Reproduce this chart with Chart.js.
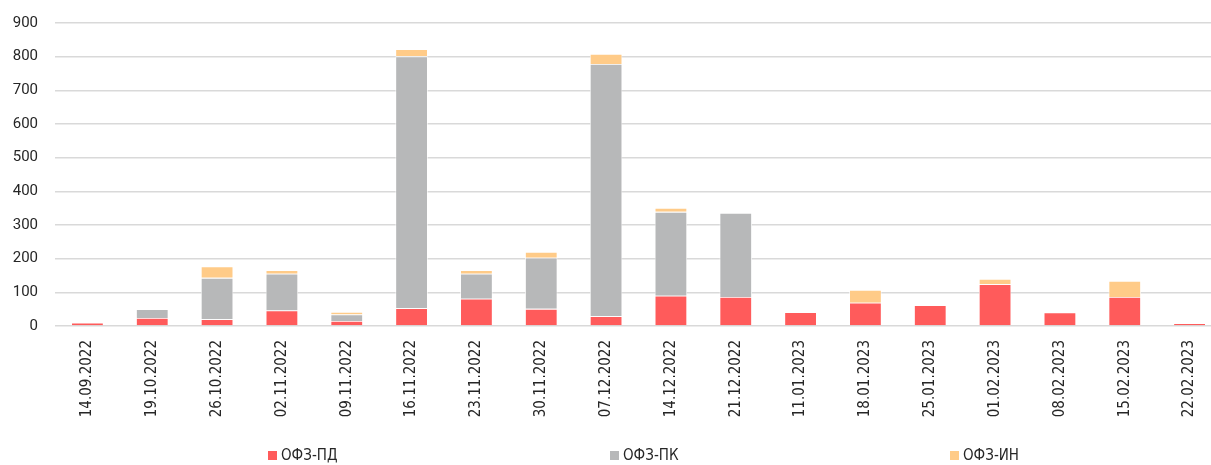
<!DOCTYPE html>
<html>
<head>
<meta charset="utf-8">
<script src="https://cdn.jsdelivr.net/npm/chart.js@4.4.0/dist/chart.umd.min.js"></script>
<style>
  body { margin: 0; background: #fff; overflow: hidden; }
  #wrap { position: relative; width: 1211px; height: 465px; overflow: hidden; }
  #myChart { position: absolute; left: 0; top: 0; }
  #legend { position: absolute; top: 446px; left: 0; width: 1211px; height: 18px;
            font-family: "Liberation Sans Narrow", "DejaVu Sans Condensed", Roboto, sans-serif;
            font-size: 15px; color: #262626; }
  .item { position: absolute; top: 0; line-height: 18px; white-space: nowrap; }
  .box { display: inline-block; width: 9px; height: 9px; margin-right: 4px; vertical-align: 0px; }
</style>
</head>
<body>
<div id="wrap">
  <canvas id="myChart" width="1225" height="465"></canvas>
  <div id="legend"></div>
</div>
<script>
// dates of auctions
const dates = ['14.09.2022', '19.10.2022', '26.10.2022', '02.11.2022', '09.11.2022', '16.11.2022',
  '23.11.2022', '30.11.2022', '07.12.2022', '14.12.2022', '21.12.2022', '11.01.2023',
  '18.01.2023', '25.01.2023', '01.02.2023', '08.02.2023', '15.02.2023', '22.02.2023'];

// values by bond type
const ofzPD = [10, 24, 20, 46, 15, 53, 81, 51, 29, 90, 86, 41, 69, 62, 124, 40, 86, 8];
const ofzPK = [0, 26, 123, 109, 19, 748, 74, 152, 749, 249, 250, 0, 0, 0, 0, 0, 0, 0];
const ofzIN = [0, 0, 34, 11, 8, 21, 11, 17, 30, 12, 0, 0, 38, 0, 16, 0, 48, 0];

const yTicks = [0, 100, 200, 300, 400, 500, 600, 700, 800, 900];

const seriesNames = ['ОФЗ-ПД', 'ОФЗ-ПК', 'ОФЗ-ИН'];
const seriesColors = ['#FF5B5B', '#B7B8B9', '#FFCB88'];

const data = {
  labels: dates,
  datasets: [ofzPD, ofzPK, ofzIN].map((vals, i) => ({
    label: seriesNames[i],
    data: vals,
    backgroundColor: seriesColors[i],
    borderColor: '#ffffff',
    borderWidth: 0.8,
    barPercentage: 0.5,
    categoryPercentage: 1.0,
  }))
};

const ctx = document.getElementById('myChart').getContext('2d');

const myChart = new Chart(ctx, {
  type: 'bar',
  data: data,
  options: {
    responsive: false,
    animation: false,
    layout: { padding: { top: 23, left: 0, right: 3, bottom: 0 } },
    plugins: {
      legend: { display: false },
      tooltip: { enabled: false }
    },
    scales: {
      x: {
        stacked: true,
        grid: { display: false },
        border: { display: false },
        ticks: {
          minRotation: 90,
          maxRotation: 90,
          padding: 6,
          color: '#262626',
          font: { family: '"Liberation Sans Narrow", "DejaVu Sans Condensed", Roboto, sans-serif', size: 15 }
        },
        afterFit: (scale) => { scale.height = 139; }
      },
      y: {
        stacked: true,
        min: 0,
        max: 900,
        afterBuildTicks: (scale) => { scale.ticks = yTicks.map(v => ({ value: v })); },
        grid: { color: '#d9d9d9', lineWidth: 1.5, drawTicks: false },
        border: { display: false },
        ticks: {
          padding: 17,
          color: '#262626',
          font: { family: 'Roboto, "Open Sans", sans-serif', size: 15 }
        },
        afterFit: (scale) => { scale.width = 55; scale.paddingTop = 0; scale.paddingBottom = 0; }
      }
    }
  }
});

// legend spread across the bottom
const legendX = [268, 610, 950];
const legend = document.getElementById('legend');
seriesNames.forEach((name, i) => {
  const item = document.createElement('div');
  item.className = 'item';
  item.style.left = legendX[i] + 'px';
  item.innerHTML = '<span class="box" style="background:' + seriesColors[i] + '"></span>' + name;
  legend.appendChild(item);
});
</script>
</body>
</html>
